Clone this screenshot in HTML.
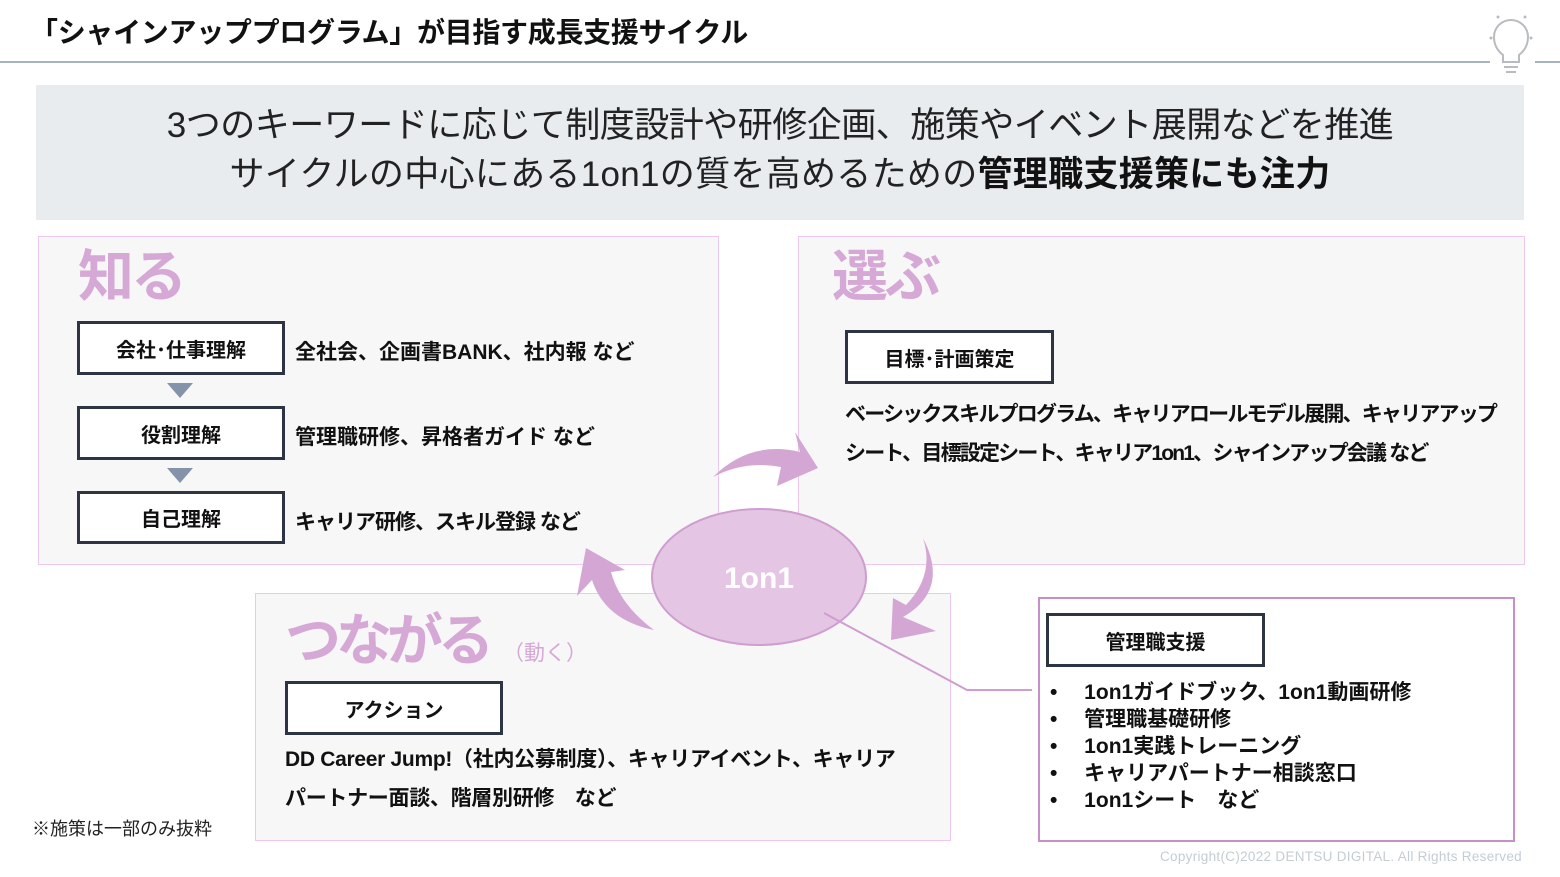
<!DOCTYPE html>
<html><head><meta charset="utf-8"><style>
*{margin:0;padding:0;box-sizing:border-box}
body{width:1560px;height:877px;background:#fff;position:relative;overflow:hidden;font-family:"Liberation Sans","Noto Sans CJK JP",sans-serif;color:#111}
.a{position:absolute;white-space:nowrap}
.panel{position:absolute;background:#f7f7f7;border:1px solid #ecc8ec}
.box{position:absolute;background:#fff;border:3px solid #2d3444;font-weight:bold;font-size:20px;display:flex;align-items:center;justify-content:center}
.b{font-weight:bold}
.tri{position:absolute;width:0;height:0;border-left:13px solid transparent;border-right:13px solid transparent;border-top:15px solid #8593aa}
</style></head><body>
<div class="a b" style="left:30px;top:11px;font-size:28px;letter-spacing:-0.3px">「シャインアッププログラム」が目指す成長支援サイクル</div>
<div class="a" style="left:0;top:61px;width:1490px;height:2px;background:#a9b3bb"></div>
<div class="a" style="left:1535px;top:61px;width:25px;height:2px;background:#a9b3bb"></div>
<svg class="a" style="left:1478px;top:5px" width="70" height="70"><g stroke="#b8bcc0" stroke-width="2" fill="none"><path d="M25 57 L25 50 Q16 43 16 32 A17 17 0 0 1 50 32 Q50 43 41 50 L41 57 Z"/><path d="M26 62 H40 M28 67 H38"/></g><g fill="#b8bcc0"><circle cx="13" cy="33" r="1.5"/><circle cx="53" cy="33" r="1.5"/><circle cx="20" cy="12" r="1.5"/><circle cx="47" cy="12" r="1.5"/></g></svg>

<div class="a" style="left:36px;top:85px;width:1488px;height:135px;background:#e9ecef"></div>
<div class="a" style="left:36px;top:101px;width:1488px;text-align:center;font-size:35px;line-height:49px;color:#222;letter-spacing:-0.5px">3つのキーワードに応じて制度設計や研修企画、施策やイベント展開などを推進<br><span style="letter-spacing:0.3px">サイクルの中心にある1on1の質を高めるための<span class="b" style="color:#111">管理職支援策にも注力</span></span></div>

<div class="panel" style="left:38px;top:236px;width:681px;height:329px"></div>
<div class="panel" style="left:798px;top:236px;width:727px;height:329px"></div>
<div class="panel" style="left:255px;top:593px;width:696px;height:248px"></div>
<div class="a" style="left:1038px;top:597px;width:477px;height:245px;background:#fff;border:2px solid #c78fca"></div>

<div class="a b" style="left:78px;top:244px;font-size:56px;color:#d6a8d6;line-height:66px;letter-spacing:-3px">知る</div>
<div class="a b" style="left:832px;top:244px;font-size:56px;color:#d6a8d6;line-height:66px;letter-spacing:-3px">選ぶ</div>
<div class="a b" style="left:285px;top:608px;font-size:56px;color:#d6a8d6;line-height:66px;letter-spacing:-5px">つながる<span style="font-size:21px;font-weight:normal;margin-left:14px;letter-spacing:0">（動く）</span></div>

<div class="box" style="left:77px;top:321px;width:208px;height:54px">会社･仕事理解</div>
<div class="tri" style="left:167px;top:383px"></div>
<div class="box" style="left:77px;top:406px;width:208px;height:54px">役割理解</div>
<div class="tri" style="left:167px;top:468px"></div>
<div class="box" style="left:77px;top:491px;width:208px;height:53px">自己理解</div>
<div class="a b" style="left:295px;top:336px;font-size:21px">全社会、企画書BANK、社内報 など</div>
<div class="a b" style="left:295px;top:421px;font-size:21px">管理職研修、昇格者ガイド など</div>
<div class="a b" style="left:295px;top:506px;font-size:21px;letter-spacing:-1px">キャリア研修、スキル登録 など</div>

<div class="box" style="left:845px;top:330px;width:209px;height:54px">目標･計画策定</div>
<div class="a b" style="left:845px;top:395px;font-size:21px;line-height:39px;letter-spacing:-1.8px">ベーシックスキルプログラム、キャリアロールモデル展開、キャリアアップ<br>シート、目標設定シート、キャリア1on1、シャインアップ会議 など</div>

<div class="box" style="left:285px;top:681px;width:218px;height:54px">アクション</div>
<div class="a b" style="left:285px;top:740px;font-size:21px;line-height:39px;letter-spacing:-0.3px">DD Career Jump!（社内公募制度）、キャリアイベント、キャリア<br>パートナー面談、階層別研修　など</div>

<div class="box" style="left:1046px;top:613px;width:219px;height:54px">管理職支援</div>
<div class="a b" style="left:1050px;top:679px;font-size:21px;line-height:27px">•　 1on1ガイドブック、1on1動画研修<br>•　 管理職基礎研修<br>•　 1on1実践トレーニング<br>•　 キャリアパートナー相談窓口<br>•　 1on1シート　など</div>

<div class="a" style="left:32px;top:815px;font-size:18px;color:#222;letter-spacing:0px">※施策は一部のみ抜粋</div>
<div class="a" style="left:1160px;top:849px;font-size:13.5px;color:#c4ccd4;letter-spacing:0.3px">Copyright(C)2022 DENTSU DIGITAL. All Rights Reserved</div>

<svg class="a" style="left:0;top:0" width="1560" height="877">
<g fill="#d4a6d4">
<path d="M713 477 Q750 440 800 452 L795 432 L818 468 L777 486 L781 467 Q745 460 713 477 Z"/>
<path d="M923 538 Q950 590 903 617 L936 631 L891 640 L893 598 L906 605 Q935 575 923 538 Z"/>
<path d="M654 630 Q605 620 592 580 L577 596 L586 548 L625 570 L611 572 Q620 605 654 630 Z"/>
</g>
<ellipse cx="759" cy="577" rx="107" ry="68" fill="#e4c6e4" stroke="#cf9dd0" stroke-width="2"/>
<text x="759" y="588" text-anchor="middle" font-family="Liberation Sans, sans-serif" font-weight="bold" font-size="30" fill="#fff">1on1</text>
<polyline points="824,613 967,690 1032,690" fill="none" stroke="#cf9dd0" stroke-width="2"/>
</svg>
</body></html>
